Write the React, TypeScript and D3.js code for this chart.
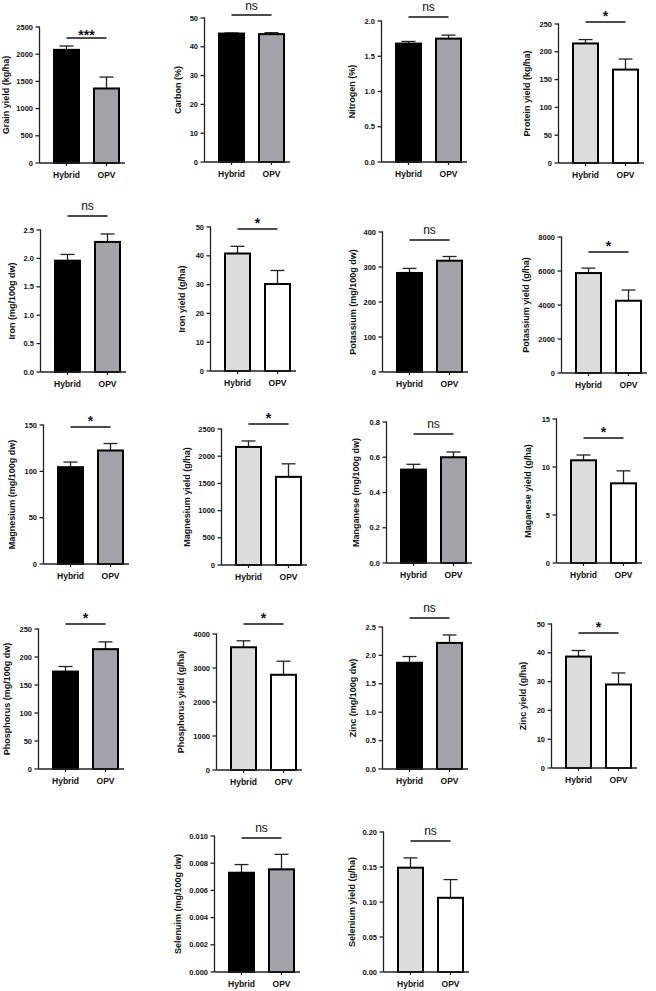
import React from "react";
import * as d3 from "d3";

const categories = ["Hybrid", "OPV"];

const titles = [
  "Grain yield (kg/ha)", "Carbon (%)", "Nitrogen (%)", "Protein yield (kg/ha)",
  "Iron (mg/100g dw)", "Iron yield (g/ha)", "Potassium (mg/100g dw)", "Potassium yield (g/ha)",
  "Magnesium (mg/100g dw)", "Magnesium yield (g/ha)", "Manganese (mg/100g dw)", "Maganese yield (g/ha)",
  "Phosphorus (mg/100g dw)", "Phosphorus yield (g/ha)", "Zinc (mg/100g dw)", "Zinc yield (g/ha)",
  "Selenuim (mg/100g dw)", "Selenium yield (g/ha)",
];

const hybridMean = [2080, 44.6, 1.68, 215, 1.96, 40.8, 283, 5880, 104.5, 2170, 0.53, 10.7, 174, 3610, 1.87, 38.7, 0.0073, 0.149];
const hybridSem = [70, 0.2, 0.03, 7, 0.11, 2.5, 13, 290, 5.5, 110, 0.03, 0.55, 9, 190, 0.11, 2.1, 0.0006, 0.014];
const opvMean = [1370, 44.4, 1.75, 168, 2.29, 30.2, 318, 4250, 122.5, 1620, 0.6, 8.3, 214, 2800, 2.22, 29, 0.00755, 0.106];
const opvSem = [210, 0.5, 0.05, 19, 0.14, 4.7, 12, 630, 7.5, 240, 0.03, 1.3, 13, 400, 0.14, 4, 0.0011, 0.026];

const yMax = [2500, 50, 2.0, 250, 2.5, 50, 400, 8000, 150, 2500, 0.8, 15, 250, 4000, 2.5, 50, 0.01, 0.2];
const yStep = [500, 10, 0.5, 50, 0.5, 10, 100, 2000, 50, 500, 0.2, 5, 50, 1000, 0.5, 10, 0.002, 0.05];
const tickDecimals = [0, 0, 1, 0, 1, 0, 0, 0, 0, 0, 1, 0, 0, 0, 1, 0, 3, 2];
const sigLabels = ["***", "ns", "ns", "*", "ns", "*", "ns", "*", "*", "*", "ns", "*", "*", "*", "ns", "*", "ns", "ns"];
const yieldStyle = [false, false, false, true, false, true, false, true, false, true, false, true, false, true, false, true, false, true];

// layout: [barStartX, topPx, bottomPx, sigLineY, titleX]
const layout = [
  [53, 27, 163, 38, 6],
  [218, 18, 162, 15, 178],
  [395, 21, 162, 17, 352],
  [572, 24, 163, 22, 527],
  [54, 230, 372, 216, 12],
  [224, 227, 371, 229, 182],
  [396, 232, 372, 240, 353],
  [575, 237, 373, 252, 526],
  [57, 425, 564, 427, 12],
  [235, 429, 565, 424, 187],
  [400, 422, 563, 434, 356],
  [570, 419, 563, 438, 528],
  [52, 629, 769, 624, 7],
  [230, 634, 770, 624, 181],
  [396, 627, 769, 618, 353],
  [565, 624, 768, 633, 523],
  [228, 836, 972, 838, 178],
  [397, 832, 972, 841, 352],
];
const AXIS_GAP = 13.5;

const FONT = "'Liberation Sans', Arial, Helvetica, sans-serif";

function Panel({ i }: { i: number }) {
  const [bx, top, bot, sy, tx] = layout[i];
  const ax = bx - AXIS_GAP;
  const y = d3.scaleLinear().domain([0, yMax[i]]).range([bot, top]);
  const x = d3.scaleBand<string>().domain(categories).range([bx, bx + 67]).paddingInner(0.325);
  const ticks = d3.range(0, yMax[i] + yStep[i] / 2, yStep[i]);
  const fmt = d3.format(`.${tickDecimals[i]}f`);
  const means = [hybridMean[i], opvMean[i]];
  const sems = [hybridSem[i], opvSem[i]];
  const fills = yieldStyle[i] ? ["#dcdcdc", "#ffffff"] : ["#000000", "#a2a2a8"];
  const bw = x.bandwidth();
  const xEnd = bx + 72;
  const c0 = (x(categories[0]) as number) + bw / 2;
  const c1 = (x(categories[1]) as number) + bw / 2;
  const sig = sigLabels[i];
  const isNs = sig === "ns";
  return (
    <g>
      {categories.map((c, k) => {
        const x0 = x(c) as number;
        const cx = x0 + bw / 2;
        const yt = y(means[k]);
        const ye = y(means[k] + sems[k]);
        return (
          <g key={c}>
            <line x1={cx} x2={cx} y1={yt} y2={ye} stroke="#222" strokeWidth={1.3} />
            <line x1={cx - 7} x2={cx + 7} y1={ye} y2={ye} stroke="#222" strokeWidth={1.3} />
            <rect x={x0 + 1} y={yt} width={bw - 2} height={bot - yt} fill={fills[k]} stroke="#000" strokeWidth={2} />
          </g>
        );
      })}
      <line x1={ax} x2={ax} y1={top - 0.6} y2={bot} stroke="#222" strokeWidth={1.3} />
      <line x1={ax} x2={xEnd} y1={bot} y2={bot} stroke="#222" strokeWidth={1.3} />
      {ticks.map((t) => (
        <g key={t}>
          <line x1={ax - 4} x2={ax} y1={y(t)} y2={y(t)} stroke="#222" strokeWidth={1.3} />
          <text x={ax - 6.5} y={y(t)} dy="0.35em" textAnchor="end" fontSize={7.5} fontWeight="bold" fontFamily={FONT} fill="#111">
            {fmt(t)}
          </text>
        </g>
      ))}
      {categories.map((c) => {
        const cx = (x(c) as number) + bw / 2;
        return (
          <g key={"l" + c}>
            <line x1={cx} x2={cx} y1={bot} y2={bot + 3} stroke="#222" strokeWidth={1.2} />
            <text x={cx} y={bot + 15} textAnchor="middle" fontSize={8.5} fontWeight="bold" fontFamily={FONT} fill="#111">
              {c}
            </text>
          </g>
        );
      })}
      <text
        transform={`translate(${tx},${(top + bot) / 2}) rotate(-90)`}
        dy="0.35em"
        textAnchor="middle"
        fontSize={9}
        fontWeight="bold"
        fontFamily={FONT}
        fill="#111"
      >
        {titles[i]}
      </text>
      <line x1={c0} x2={c1} y1={sy} y2={sy} stroke="#111" strokeWidth={1.3} />
      <text
        x={(c0 + c1) / 2}
        y={isNs ? Math.max(sy - 6, 10) : sig === "***" ? sy + 2 : sy - 1.5}
        textAnchor="middle"
        fontSize={isNs ? 12 : 14}
        fontWeight={isNs ? "normal" : "bold"}
        fontFamily={FONT}
        fill="#111"
      >
        {sig}
      </text>
    </g>
  );
}

export default function App() {
  return (
    <svg
      width={656}
      height={991}
      viewBox="0 0 656 991"
      style={{ position: "absolute", left: 0, top: 0, background: "#fff" }}
    >
      <rect x={0} y={0} width={656} height={991} fill="#fff" />
      {titles.map((_, i) => (
        <Panel key={i} i={i} />
      ))}
    </svg>
  );
}
